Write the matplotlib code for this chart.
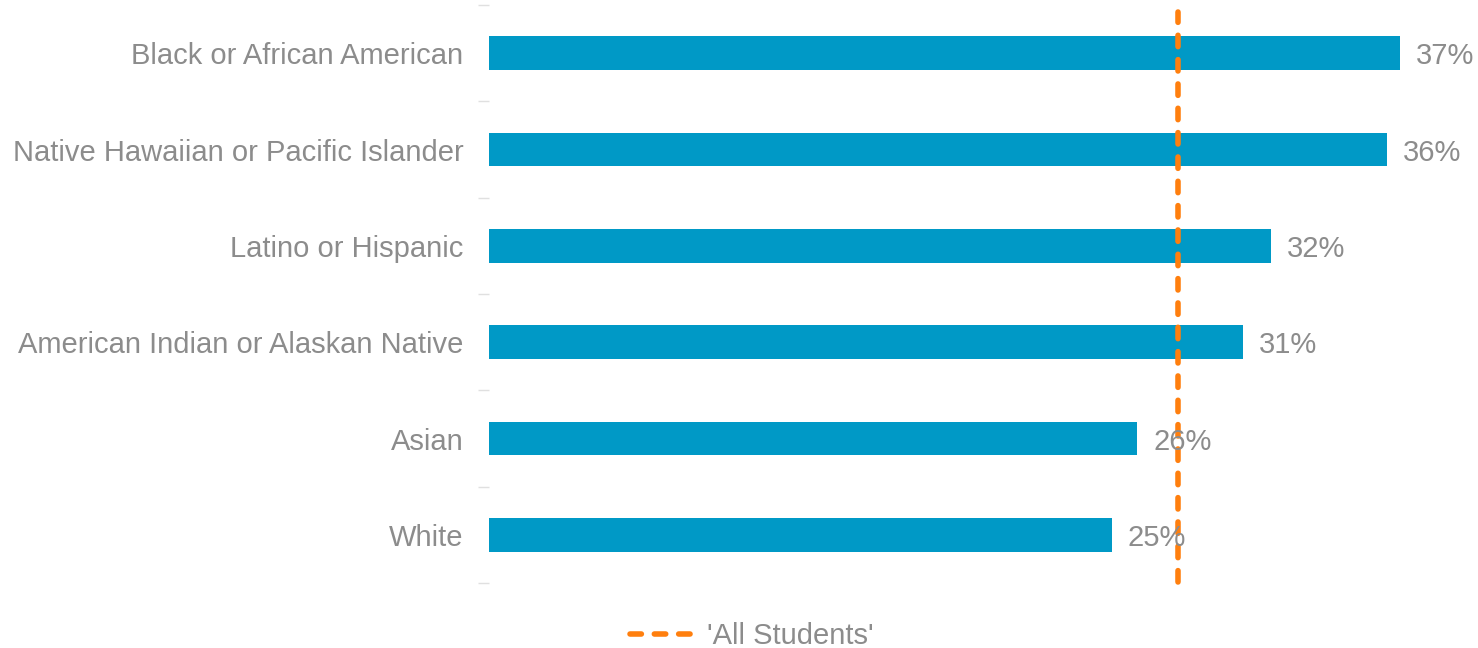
import matplotlib
matplotlib.use("Agg")
import matplotlib.pyplot as plt
from matplotlib.lines import Line2D

plt.rcParams['font.family'] = ['Liberation Sans', 'DejaVu Sans']

groups = [
    "Black or African American",
    "Native Hawaiian or Pacific Islander",
    "Latino or Hispanic",
    "American Indian or Alaskan Native",
    "Asian",
    "White",
]
rates = [36.96, 36.43, 31.72, 30.59, 26.29, 25.27]
all_students = 27.95
legend_label = "'All Students'"

bar_color = "#0099c6"
line_color = "#ff7f0e"
text_color = "#8c8c8c"
fs = 21

W, H = 1478, 648
fig = plt.figure(figsize=(W / 100, H / 100), dpi=100)
ax = fig.add_axes([489 / W, 1 - 583 / H, 986 / W, 578 / H])

y = list(range(len(groups)))
ax.barh(y, rates, height=0.35, color=bar_color)
ax.set_ylim(len(groups) - 0.5, -0.5)
ax.set_xlim(0, 40)

for yi, v in zip(y, rates):
    ax.text(v + 0.65, yi, f"{round(v)}%", va="center_baseline", ha="left",
            fontsize=fs, color=text_color)

dash = (0, (2.05, 2.33))
ax.axvline(all_students, color=line_color, lw=4, ls=dash,
           dash_capstyle="round", ymin=0.002, ymax=0.988, clip_on=False)

ax.set_yticks(y)
ax.set_yticklabels(groups, fontsize=fs, color=text_color)
ax.tick_params(axis="y", which="major", length=0, pad=18.5)
ax.set_yticks([i - 0.5 for i in range(len(groups) + 1)], minor=True)
ax.tick_params(axis="y", which="minor", length=8, width=1, color="#e0e0e0")
ax.set_xticks([])
for s in ax.spines.values():
    s.set_visible(False)

handle = Line2D([], [], color=line_color, lw=4, ls=dash, dash_capstyle="round")
fig.legend([handle], [legend_label], loc="center", bbox_to_anchor=(752 / W, 1 - 636 / H),
           frameon=False, fontsize=fs, labelcolor=text_color,
           handlelength=2.2, handletextpad=0.45)

fig.savefig("out.png", dpi=100)
